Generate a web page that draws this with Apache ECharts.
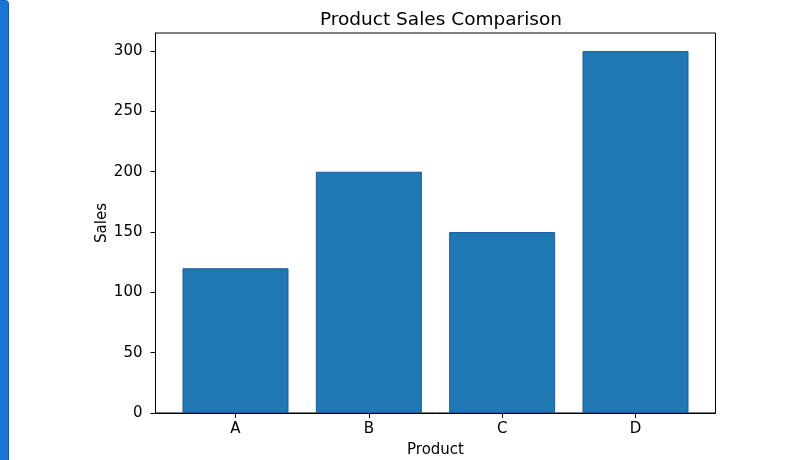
<!DOCTYPE html>
<html>
<head>
<meta charset="utf-8">
<script src="https://cdn.jsdelivr.net/npm/echarts@6/dist/echarts.min.js"></script>
<style>html,body{margin:0;padding:0;background:#fff}#c{width:800px;height:460px}</style>
</head>
<body>
<div id="c"></div>
<script>
const categories = ['A', 'B', 'C', 'D'];
const sales = [120, 200, 150, 300];
const yTicks = [0, 50, 100, 150, 200, 250, 300];
const catPositions = [0, 1, 2, 3];

const font = 'DejaVu Sans';
const chart = echarts.init(document.getElementById('c'), null, {renderer: 'canvas'});
chart.setOption({
  animation: false,
  backgroundColor: '#ffffff',
  title: {
    text: 'Product Sales Comparison',
    left: 436, top: 6, textAlign: 'center',
    textStyle: {fontFamily: font, fontSize: 18.5, fontWeight: 'normal', color: '#000'}
  },
  grid: {left: 155.5, right: 84.5, top: 33, bottom: 47, outerBoundsMode: 'none', containLabel: false,
    show: true, borderColor: '#000', borderWidth: 1, backgroundColor: 'transparent'},
  xAxis: {
    type: 'value', min: -0.6, max: 3.6,
    name: 'Product', nameLocation: 'middle', nameGap: 30, nameMoveOverlap: false,
    nameTextStyle: {fontFamily: font, fontSize: 15, color: '#000'},
    axisLine: {show: true, onZero: false, lineStyle: {color: '#000', width: 1}},
    axisTick: {show: true, inside: false, length: 5, lineStyle: {color: '#000'}, customValues: catPositions},
    axisLabel: {fontFamily: font, fontSize: 15, color: '#000', margin: 9, customValues: catPositions,
      formatter: v => categories[Math.round(v)] || ''},
    splitLine: {show: false}
  },
  yAxis: {
    type: 'value', min: 0, max: 315,
    name: 'Sales', nameLocation: 'middle', nameGap: 46, nameRotate: 90, nameMoveOverlap: false,
    nameTextStyle: {fontFamily: font, fontSize: 15, color: '#000'},
    axisLine: {show: true, onZero: false, lineStyle: {color: '#000', width: 1}},
    axisTick: {show: true, inside: false, length: 5, lineStyle: {color: '#000'}, customValues: yTicks},
    axisLabel: {fontFamily: font, fontSize: 15, color: '#000', margin: 13, customValues: yTicks},
    splitLine: {show: false}
  },
  series: [{
    type: 'bar',
    data: catPositions.map((p, i) => [p, sales[i]]),
    barWidth: 106,
    itemStyle: {color: '#1f77b4', borderColor: '#1a5a96', borderWidth: 1}
  }],
  graphic: [{
    type: 'rect', left: -3, top: 0,
    shape: {width: 11, height: 470, r: 3},
    style: {fill: '#1a73d6', stroke: '#0f5cc0', lineWidth: 1}
  }]
});
</script>
</body>
</html>
